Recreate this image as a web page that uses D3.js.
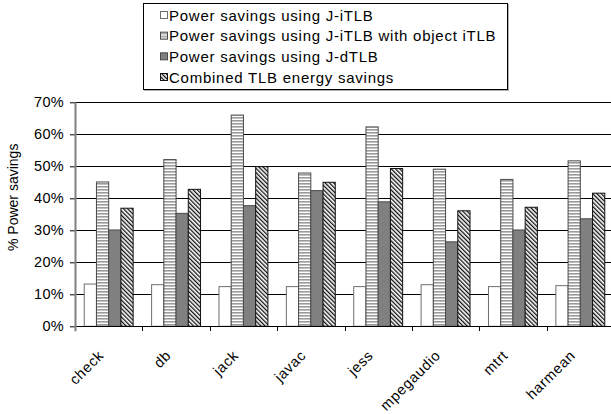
<!DOCTYPE html>
<html>
<head>
<meta charset="utf-8">
<script src="https://cdn.jsdelivr.net/npm/d3@7"></script>
<style>
  html, body { margin: 0; padding: 0; background: #fff; }
  svg { display: block; }
  text { font-family: "Liberation Sans", Arial, Helvetica, sans-serif; fill: #000; }
</style>
</head>
<body>
<svg id="chart" width="611" height="414"></svg>
<script>
// Benchmarks on the x axis
const categories = ["check", "db", "jack", "javac", "jess", "mpegaudio", "mtrt", "harmean"];

// Series names (legend order)
const seriesNames = [
  "Power savings using J-iTLB",
  "Power savings using J-iTLB with object iTLB",
  "Power savings using J-dTLB",
  "Combined TLB energy savings"
];

// Power savings per benchmark, in percent
const jItlb       = [13.2, 13.0, 12.4, 12.4, 12.4, 13.0, 12.4, 12.7];
const jItlbObject = [45.1, 52.1, 66.0, 47.9, 62.3, 49.1, 45.9, 51.7];
const jDtlb       = [30.1, 35.3, 37.7, 42.4, 38.9, 26.4, 30.1, 33.6];
const combined    = [36.9, 42.8, 49.9, 45.0, 49.3, 36.1, 37.2, 41.6];

const yTicks = [0, 10, 20, 30, 40, 50, 60, 70];

const seriesValues = [jItlb, jItlbObject, jDtlb, combined];

const svg = d3.select("#chart");

// Fill patterns
const defs = svg.append("defs");

const stripes = defs.append("pattern")
  .attr("id", "pat-stripes")
  .attr("patternUnits", "userSpaceOnUse")
  .attr("width", 6).attr("height", 3);
stripes.append("rect").attr("width", 6).attr("height", 3).attr("fill", "#ffffff");
stripes.append("rect").attr("y", 0).attr("width", 6).attr("height", 1.6).attr("fill", "#9a9a9a");

const hatch = defs.append("pattern")
  .attr("id", "pat-hatch")
  .attr("patternUnits", "userSpaceOnUse")
  .attr("width", 3).attr("height", 3)
  .attr("patternTransform", "rotate(-45)");
hatch.append("rect").attr("width", 3).attr("height", 3).attr("fill", "#ffffff");
hatch.append("rect").attr("x", 0).attr("width", 1.3).attr("height", 3).attr("fill", "#111111");

const seriesStyle = [
  { fill: "#ffffff", stroke: "#6e6e6e" },
  { fill: "url(#pat-stripes)", stroke: "#4a4a4a" },
  { fill: "#808080", stroke: "#4a4a4a" },
  { fill: "url(#pat-hatch)", stroke: "#111111" }
];

// Plot geometry
const plotLeft = 75, plotRight = 614, plotTop = 102.3, plotBottom = 326.3;

const y = d3.scaleLinear().domain([0, 70]).range([plotBottom, plotTop]);

const x0 = d3.scaleBand().domain(categories).range([plotLeft, plotRight]).padding(0);
const groupW = x0.bandwidth();
const x1 = d3.scaleBand().domain(d3.range(seriesNames.length))
  .range([groupW * 0.137, groupW * 0.863]).padding(0);

// Horizontal gridlines
svg.append("g")
  .selectAll("line")
  .data(yTicks.filter(t => t > 0))
  .join("line")
  .attr("x1", plotLeft).attr("x2", 611)
  .attr("y1", d => Math.round(y(d)) + 0.5)
  .attr("y2", d => Math.round(y(d)) + 0.5)
  .attr("stroke", "#000").attr("stroke-width", 1);

// Bars
const groups = svg.append("g")
  .selectAll("g")
  .data(categories)
  .join("g")
  .attr("transform", d => `translate(${x0(d)},0)`);

groups.selectAll("rect")
  .data((d, i) => seriesValues.map((vals, s) => ({ s, v: vals[i] })))
  .join("rect")
  .attr("x", d => x1(d.s))
  .attr("width", x1.bandwidth())
  .attr("y", d => y(d.v))
  .attr("height", d => y(0) - y(d.v))
  .attr("fill", d => seriesStyle[d.s].fill)
  .attr("stroke", d => seriesStyle[d.s].stroke)
  .attr("stroke-width", 1);

// X axis: baseline with ticks between groups
const xAxisG = svg.append("g");
xAxisG.append("line")
  .attr("x1", plotLeft).attr("x2", 611)
  .attr("y1", Math.round(plotBottom) + 0.5).attr("y2", Math.round(plotBottom) + 0.5)
  .attr("stroke", "#000");
xAxisG.selectAll("line.tick")
  .data(categories.map(c => x0(c)))
  .join("line")
  .attr("class", "tick")
  .attr("x1", d => Math.round(d) + 0.5).attr("x2", d => Math.round(d) + 0.5)
  .attr("y1", Math.round(plotBottom)).attr("y2", Math.round(plotBottom) + 5)
  .attr("stroke", (d, i) => i === 0 ? "#808080" : "#000");

// Category labels, rotated
xAxisG.selectAll("text")
  .data(categories)
  .join("text")
  .attr("text-anchor", "end")
  .attr("font-size", 14.5)
  .attr("letter-spacing", 0.7)
  .attr("transform", d => `translate(${x0(d) + groupW / 2 - 4},${plotBottom + 30}) rotate(-45)`)
  .text(d => d);

// Y axis via d3.axisLeft
const yAxis = d3.axisLeft(y)
  .tickValues(yTicks)
  .tickFormat(d => d + "%")
  .tickSize(5)
  .tickPadding(6);

const yAxisG = svg.append("g")
  .attr("transform", `translate(${plotLeft},0)`)
  .call(yAxis);
yAxisG.select(".domain").remove();
yAxisG.selectAll(".tick line").attr("stroke", "#000");
yAxisG.selectAll(".tick text")
  .attr("font-size", 14.5)
  .attr("letter-spacing", 0.3)
  .attr("font-family", "Liberation Sans, Arial, sans-serif")
  .attr("fill", "#000");
yAxisG.append("line")
  .attr("x1", 0.5).attr("x2", 0.5)
  .attr("y1", plotTop).attr("y2", plotBottom + 5)
  .attr("stroke", "#808080").attr("stroke-width", 2);

// Y axis title
svg.append("text")
  .attr("text-anchor", "middle")
  .attr("font-size", 14)
  .attr("transform", `translate(18,${(plotTop + plotBottom) / 2 - 17}) rotate(-90)`)
  .text("% Power savings");

// Legend
const legend = svg.append("g");
const lgX = 143, lgY = 3, lgW = 364, lgH = 86;
legend.append("rect")
  .attr("x", lgX + 1.5).attr("y", lgY + 1.5).attr("width", lgW).attr("height", lgH)
  .attr("fill", "none").attr("stroke", "#b0b0b0");
legend.append("rect")
  .attr("x", lgX + 0.5).attr("y", lgY + 0.5).attr("width", lgW).attr("height", lgH)
  .attr("fill", "#fff").attr("stroke", "#000");

const rowY = d3.scalePoint().domain(d3.range(seriesNames.length)).range([15, 77]);
const rows = legend.selectAll("g.row")
  .data(seriesNames)
  .join("g")
  .attr("class", "row")
  .attr("transform", (d, i) => `translate(160,${rowY(i)})`);
rows.append("rect")
  .attr("x", 0.5).attr("y", -3.5).attr("width", 7).attr("height", 7)
  .attr("fill", (d, i) => seriesStyle[i].fill)
  .attr("stroke", (d, i) => seriesStyle[i].stroke);
rows.append("text")
  .attr("x", 9).attr("y", 5.5)
  .attr("font-size", 15)
  .attr("letter-spacing", 0.75)
  .text(d => d);
</script>
</body>
</html>
